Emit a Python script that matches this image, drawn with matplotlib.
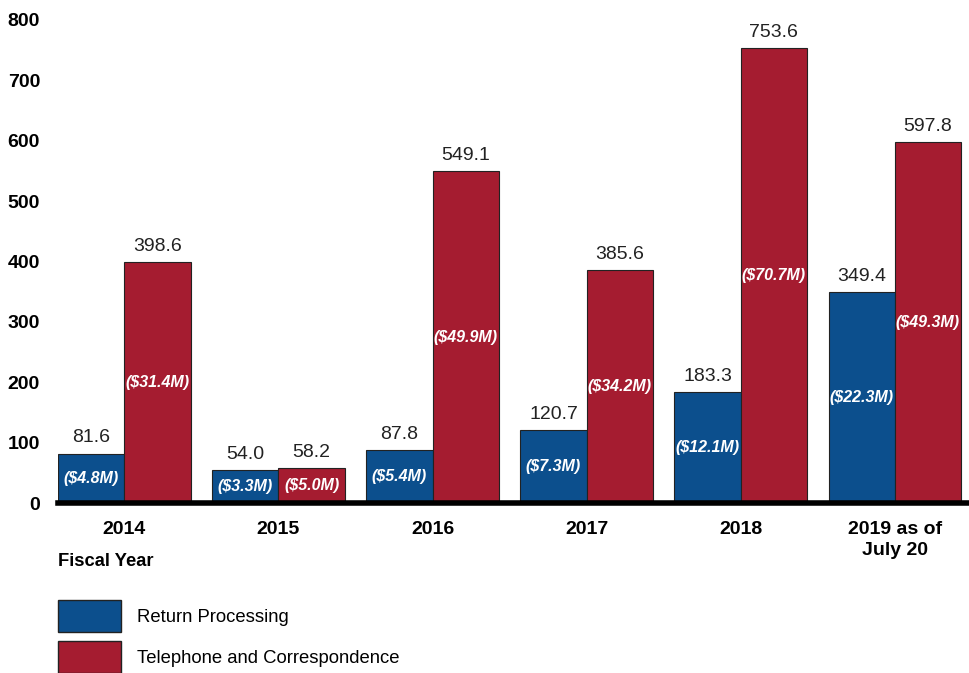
import matplotlib.pyplot as plt
from matplotlib.patches import Patch
import numpy as np

plt.rcParams['font.family'] = ['Liberation Sans', 'DejaVu Sans']

years = ['2014', '2015', '2016', '2017', '2018', '2019 as of\nJuly 20']
return_proc = [81.6, 54.0, 87.8, 120.7, 183.3, 349.4]
phone_corr = [398.6, 58.2, 549.1, 385.6, 753.6, 597.8]
return_cost = ['($4.8M)', '($3.3M)', '($5.4M)', '($7.3M)', '($12.1M)', '($22.3M)']
phone_cost = ['($31.4M)', '($5.0M)', '($49.9M)', '($34.2M)', '($70.7M)', '($49.3M)']

blue = '#0c4f8d'
red = '#a51c30'
fs = 14

fig = plt.figure(figsize=(9.69, 6.73), dpi=100)
ax = fig.add_axes([0.06, 0.2526, 0.9429, 0.7177])

x = np.arange(len(years))
w = 0.43
b1 = ax.bar(x - w / 2, return_proc, w, color=blue, edgecolor='#222222', linewidth=0.8)
b2 = ax.bar(x + w / 2, phone_corr, w, color=red, edgecolor='#222222', linewidth=0.8)

for bars, vals, costs in [(b1, return_proc, return_cost), (b2, phone_corr, phone_cost)]:
    for r, v, c in zip(bars, vals, costs):
        cx = r.get_x() + r.get_width() / 2
        ax.text(cx, v + 12, f'{v:.1f}', ha='center', va='bottom', fontsize=fs, color='#222222')
        ax.text(cx, v / 2, c, ha='center', va='center', fontsize=11.5, color='white',
                fontweight='bold', style='italic')

ax.set_xlim(-w, 5.5)
ax.set_ylim(0, 800)
ax.set_yticks(range(0, 801, 100))
ax.set_xticks(x)
ax.set_xticklabels(years, fontsize=fs, fontweight='bold', linespacing=1.3)
for lab in ax.get_yticklabels():
    lab.set_fontweight('bold')
    lab.set_fontsize(fs)
ax.tick_params(length=0)
ax.tick_params(axis='y', pad=13)
ax.tick_params(axis='x', pad=13)

for s in ['top', 'right', 'left']:
    ax.spines[s].set_visible(False)
ax.spines['bottom'].set_linewidth(4)

fig.text(58 / 969, 1 - 561 / 673, 'Fiscal Year', fontsize=13.2, fontweight='bold', va='center')

handles = [Patch(facecolor=blue, edgecolor='#222222', label='Return Processing'),
           Patch(facecolor=red, edgecolor='#222222', label='Telephone and Correspondence')]
fig.legend(handles=handles, loc='upper left', bbox_to_anchor=(58 / 969, 1 - 600 / 673),
           frameon=False, fontsize=13.3, handlelength=3.4, handleheight=2.3,
           handletextpad=0.86, labelspacing=0.48, borderpad=0, borderaxespad=0)

fig.savefig('out.png', dpi=100)
